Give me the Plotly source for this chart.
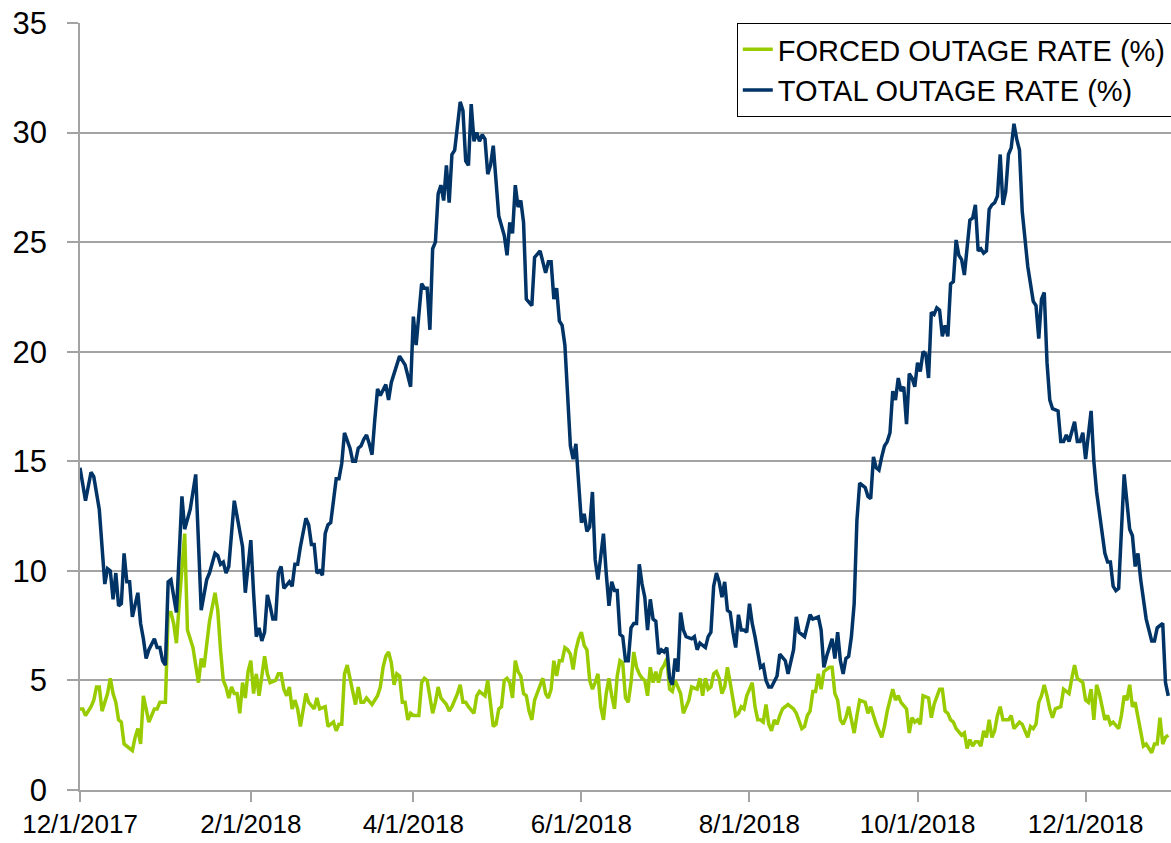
import pandas as pd
import plotly.graph_objects as go

START = "2017-12-01"

FORCED_DAY = [0,1,2,4,5,6,7,8,10,11,12,13,14,15,16,18,19,20,21,22,23,24,25,26,27,28,29,30,31,32,33,34,35,36,38,39,41,43,44,45,47,49,50,51,52,53,54,55,56,57,58,59,60,61,62,63,64,65,66,67,68,69,71,72,73,74,75,76,77,78,79,80,82,83,85,86,87,89,90,91,92,93,94,95,96,97,99,100,101,102,103,104,106,108,109,110,111,112,113,114,115,116,117,118,119,120,121,123,124,125,126,128,129,130,131,133,134,135,137,138,139,140,141,143,144,145,146,147,148,149,150,151,152,153,154,155,156,157,158,159,160,161,162,163,164,165,166,167,168,169,170,171,172,173,174,175,176,177,178,179,180,181,182,183,184,185,186,187,188,189,190,191,192,193,194,195,196,197,198,199,200,201,202,203,204,205,206,207,208,209,210,211,212,213,214,215,216,218,219,221,222,224,225,226,227,228,229,230,231,232,233,234,235,236,238,239,240,241,242,244,245,246,247,248,249,250,251,252,253,254,255,257,259,260,262,263,264,265,266,267,268,269,270,272,273,274,275,276,277,278,279,280,281,282,283,285,286,287,288,289,291,292,293,295,296,297,298,300,301,302,303,304,305,306,308,309,310,312,313,314,315,316,317,318,320,321,322,323,324,325,326,327,328,329,330,331,332,333,334,335,337,338,339,341,342,343,344,345,346,347,348,349,350,351,352,353,354,356,357,358,359,360,361,362,364,365,366,367,368,369,370,372,373,374,375,377,378,379,380,381,382,383,385,386,387,389,390,391,392,393,394,395]
FORCED_PCT = [3.7,3.7,3.4,3.8,4.1,4.7,4.7,3.6,4.4,5.1,4.4,4.0,3.2,3.1,2.1,1.9,1.8,2.4,2.8,2.1,4.3,3.7,3.1,3.4,3.7,3.7,4.0,4.0,4.0,8.1,8.1,7.6,6.7,8.5,11.7,7.3,6.5,4.9,6.0,5.6,7.7,9.0,8.2,6.4,5.0,4.7,4.2,4.7,4.4,4.4,3.5,4.9,4.2,5.4,5.9,4.4,5.3,4.3,5.2,6.1,5.3,4.9,5.0,5.3,5.3,4.6,4.3,4.7,3.7,4.1,3.7,2.9,4.4,4.0,3.7,4.2,3.7,3.8,2.9,3.0,3.1,2.7,3.0,3.0,5.3,5.7,4.4,3.9,4.7,4.0,4.0,4.2,3.9,4.3,4.7,5.6,6.1,6.3,5.8,4.8,5.3,5.2,4.0,4.0,3.2,3.5,3.4,3.4,4.9,5.1,5.0,3.5,4.0,4.7,4.2,3.9,3.6,3.8,4.4,4.8,4.0,4.0,3.8,3.5,4.3,4.5,4.4,4.3,5.0,3.9,2.9,3.0,3.7,3.8,5.0,5.1,4.9,4.2,5.9,5.4,5.2,4.4,4.3,3.6,3.2,4.1,4.4,4.7,5.1,4.4,4.2,4.6,5.9,5.2,5.9,5.9,6.5,6.4,6.2,5.5,6.4,6.9,7.2,6.6,6.4,5.0,4.6,4.9,5.3,3.8,3.2,4.4,5.1,4.3,3.7,5.2,5.9,5.8,4.2,4.0,4.9,6.3,5.6,5.3,5.1,5.0,4.3,5.6,4.9,5.4,4.9,5.5,5.7,6.0,4.6,4.5,5.0,4.4,3.5,4.1,4.7,4.6,5.1,4.3,5.1,4.6,4.7,5.3,5.4,5.1,4.4,4.7,5.6,4.9,3.4,3.5,3.8,3.7,4.3,4.9,3.8,3.2,3.2,3.1,3.9,3.0,2.7,3.2,3.0,3.4,3.7,3.9,3.7,3.5,2.8,2.9,3.4,3.6,4.5,4.5,5.3,4.6,5.4,5.6,5.6,4.4,4.1,3.2,3.0,3.3,3.8,3.2,2.6,3.4,4.1,4.0,3.5,3.8,3.4,3.0,2.4,2.9,3.6,4.6,4.1,4.3,4.0,3.7,2.6,3.3,3.1,3.2,3.0,4.3,4.2,3.3,3.9,4.6,4.6,3.6,3.5,3.2,3.1,2.8,2.5,2.6,1.9,2.3,2.0,2.2,2.2,2.0,2.7,2.4,3.2,2.4,2.7,3.4,3.8,3.2,3.2,3.4,2.8,3.1,3.0,2.7,2.4,2.9,2.8,3.0,4.0,4.3,4.8,4.3,3.7,3.3,3.7,3.8,4.6,4.5,4.4,5.1,5.7,5.1,4.9,4.1,4.0,4.6,3.2,4.8,4.4,3.2,3.4,3.0,3.1,2.8,3.4,4.3,4.1,4.8,3.8,4.0,2.7,2.0,2.1,1.7,2.1,2.1,3.3,2.1,2.4,2.5]

TOTAL_DAY = [0,2,4,5,7,9,10,11,12,13,14,15,16,17,18,19,21,22,23,24,25,27,28,29,30,31,32,33,35,37,38,40,42,43,44,46,47,49,50,51,52,53,54,56,57,59,60,62,63,64,65,66,67,68,69,70,71,72,73,74,76,77,78,79,80,82,83,84,85,86,87,88,89,90,91,92,93,94,95,96,98,99,100,101,102,103,104,105,106,107,108,109,111,112,113,115,116,118,120,121,122,124,125,126,127,128,129,130,131,132,133,134,135,136,137,138,139,140,141,142,143,144,145,146,147,148,149,150,152,154,155,156,157,158,159,160,161,162,164,165,167,169,170,171,172,173,174,175,176,177,178,179,180,182,183,184,185,186,187,188,190,191,192,193,194,195,196,197,198,199,200,201,202,203,204,205,206,207,208,209,210,211,212,213,214,215,216,217,218,219,220,222,223,224,225,227,228,229,230,231,232,233,234,235,236,237,238,239,240,241,242,243,244,245,247,248,249,250,251,253,254,256,257,259,260,261,263,264,265,266,268,269,270,271,272,273,274,275,276,277,278,279,280,281,282,283,285,286,287,288,289,290,291,292,293,294,295,296,297,298,299,300,301,302,303,304,305,306,307,308,309,310,311,312,313,314,315,316,317,318,319,320,321,323,324,325,326,327,328,329,330,331,332,333,334,335,336,337,338,339,340,341,342,343,344,346,347,348,349,350,351,352,353,355,356,357,358,359,361,362,363,364,365,367,368,369,370,372,373,374,375,376,377,378,379,381,382,383,384,385,387,389,390,391,393,394,395]
TOTAL_PCT = [14.7,13.2,14.5,14.3,12.8,9.4,10.1,10.0,8.7,9.9,8.4,8.5,10.8,9.5,9.5,7.9,9.0,7.6,6.9,6.0,6.4,6.9,6.5,6.5,5.9,5.7,9.5,9.6,8.1,13.4,11.9,12.8,14.4,11.6,8.2,9.6,9.9,10.8,10.7,10.3,10.4,9.9,10.2,13.2,12.5,11.1,9.0,11.4,9.0,7.0,7.4,6.8,7.2,8.9,8.4,7.8,7.8,9.9,10.2,9.2,9.5,9.3,10.3,10.3,11.1,12.4,12.1,11.2,11.2,9.9,10.0,9.8,11.7,12.1,12.2,13.1,14.2,14.2,14.9,16.3,15.6,15.0,15.0,15.6,15.7,16.0,16.2,15.8,15.3,16.9,18.3,18.0,18.5,17.8,18.6,19.4,19.8,19.4,18.4,21.6,20.3,23.1,22.9,22.9,21.0,24.7,25.0,27.2,27.6,26.9,28.5,26.8,29.0,29.2,30.2,31.4,31.0,28.7,28.5,31.3,29.6,30.0,29.6,29.9,29.7,28.1,28.5,29.4,26.2,25.3,24.4,25.9,25.4,27.6,26.6,26.9,25.9,22.4,22.1,24.3,24.6,23.6,24.1,24.1,22.4,22.9,21.4,21.2,20.3,17.8,15.7,15.1,15.8,12.2,12.6,11.8,12.0,13.6,10.5,9.6,11.7,9.9,8.4,9.5,9.1,9.1,7.1,7.0,5.9,5.9,7.4,7.6,7.6,10.3,9.4,8.8,7.3,8.7,7.8,7.7,6.2,6.4,6.3,6.5,5.1,4.8,6.0,5.4,8.1,7.3,7.0,6.9,7.0,6.4,6.7,6.5,7.0,7.2,9.3,9.9,9.5,8.8,9.5,8.2,8.1,7.2,6.5,8.0,7.3,7.3,7.2,8.5,7.6,7.0,5.6,5.7,5.0,4.7,4.7,5.2,6.2,5.9,5.3,6.4,7.9,7.2,7.0,7.5,8.0,7.8,7.9,7.3,5.6,6.1,6.5,6.9,6.0,7.2,5.9,5.3,6.0,6.1,7.0,8.5,12.3,14.0,13.8,13.4,13.3,15.2,14.7,14.6,15.2,15.7,15.9,16.3,18.2,17.8,18.8,18.2,18.4,16.7,19.0,18.8,18.4,19.5,19.1,20.0,19.9,18.8,21.8,21.7,22.0,21.9,20.7,21.2,20.7,23.1,23.2,25.1,24.4,24.2,23.5,26.0,26.1,26.7,24.6,24.7,24.5,24.6,26.5,26.7,26.8,27.1,29.0,26.7,27.3,29.0,29.3,30.4,29.7,29.2,26.4,25.2,23.9,22.3,22.1,20.6,22.4,22.7,19.5,17.8,17.4,17.3,15.9,15.9,16.2,15.9,16.8,15.9,15.9,16.3,15.1,17.3,15.0,13.6,12.7,10.8,10.4,10.4,9.3,9.1,9.2,11.9,14.4,11.9,11.6,10.2,10.8,9.6,7.8,6.8,6.8,7.4,7.6,4.9,4.3]

TICK_DATES = ["2017-12-01", "2018-02-01", "2018-04-01", "2018-06-01", "2018-08-01", "2018-10-01", "2018-12-01"]
TICK_TEXT = ["12/1/2017", "2/1/2018", "4/1/2018", "6/1/2018", "8/1/2018", "10/1/2018", "12/1/2018"]
Y_TICKS = [0, 5, 10, 15, 20, 25, 30, 35]

start = pd.Timestamp(START)
forced_dates = start + pd.to_timedelta(FORCED_DAY, unit="D")
total_dates = start + pd.to_timedelta(TOTAL_DAY, unit="D")

FONT = "'Liberation Sans', Arial, sans-serif"
GRID = "#A3A3A3"

fig = go.Figure()
fig.add_trace(go.Scatter(x=forced_dates, y=FORCED_PCT, mode="lines",
                         name="FORCED OUTAGE RATE (%)",
                         line=dict(color="#99CC00", width=3.5)))
fig.add_trace(go.Scatter(x=total_dates, y=TOTAL_PCT, mode="lines",
                         name="TOTAL OUTAGE RATE (%)",
                         line=dict(color="#003366", width=3.5)))

fig.update_layout(
    width=1171, height=843,
    margin=dict(l=80, r=0, t=23, b=53, autoexpand=False),
    paper_bgcolor="white", plot_bgcolor="white",
    font=dict(family=FONT, color="black"),
    showlegend=True,
    legend=dict(x=0.602, y=1, xanchor="left", yanchor="top",
                bgcolor="white", bordercolor="black", borderwidth=1,
                font=dict(size=29, family=FONT), itemwidth=30,
                tracegroupgap=0),
)
fig.update_xaxes(
    range=["2017-12-01", "2019-01-01"],
    tickvals=TICK_DATES, ticktext=TICK_TEXT,
    tickfont=dict(size=26, family=FONT),
    showgrid=False, showline=True, linecolor=GRID, linewidth=1.5,
    ticks="outside", ticklen=10, tickcolor=GRID, tickwidth=1.5,
    zeroline=False,
)
fig.update_yaxes(
    range=[0, 35], tickvals=Y_TICKS,
    tickfont=dict(size=31, family=FONT),
    showgrid=True, gridcolor=GRID, gridwidth=1.5,
    showline=True, linecolor=GRID, linewidth=1.5,
    ticks="outside", ticklen=11, tickcolor=GRID, tickwidth=1.5,
    ticklabelstandoff=14, zeroline=False,
)

fig.write_html("out.html", config={"displayModeBar": False},
               post_script="document.body.style.margin='0';")
